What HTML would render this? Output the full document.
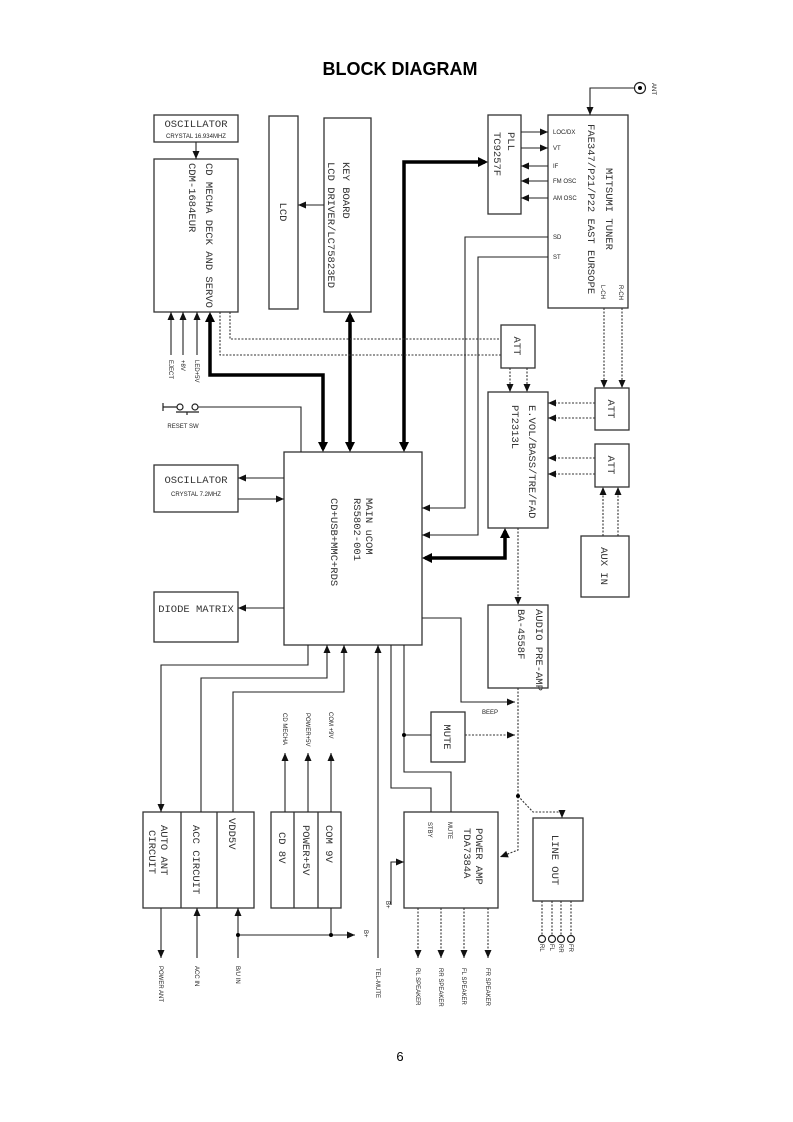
<!DOCTYPE html>
<html><head><meta charset="utf-8"><style>
html,body{margin:0;padding:0;background:#fff;}
svg{display:block;}
text{font-family:"Liberation Mono",monospace;fill:#333;}
.t{font-size:10.5px;}
.s{font-size:6px;font-family:"Liberation Sans",sans-serif;fill:#222;}
</style></head><body>
<svg width="793" height="1122" viewBox="0 0 793 1122" xmlns="http://www.w3.org/2000/svg">
<defs>
<marker id="a" markerUnits="userSpaceOnUse" markerWidth="10" markerHeight="10" refX="9" refY="5" orient="auto"><path d="M1,1.5 L9,5 L1,8.5 z" fill="#111"/></marker>
</defs>
<text x="400" y="75" text-anchor="middle" style="font-family:'Liberation Sans',sans-serif;font-size:18px;font-weight:bold;fill:#000">BLOCK DIAGRAM</text>
<text x="400" y="1061" text-anchor="middle" style="font-family:'Liberation Sans',sans-serif;font-size:13px;fill:#000">6</text>

<g fill="none" stroke="#333" stroke-width="1.3">
<rect x="154" y="115" width="84" height="27"/>
<rect x="154" y="159" width="84" height="153"/>
<rect x="269" y="116" width="29" height="193"/>
<rect x="324" y="118" width="47" height="194"/>
<rect x="154" y="465" width="84" height="47"/>
<rect x="154" y="592" width="84" height="50"/>
<rect x="284" y="452" width="138" height="193"/>
<rect x="548" y="115" width="80" height="193"/>
<rect x="488" y="115" width="33" height="99"/>
<rect x="501" y="325" width="34" height="43"/>
<rect x="595" y="388" width="34" height="42"/>
<rect x="595" y="444" width="34" height="43"/>
<rect x="581" y="536" width="48" height="61"/>
<rect x="488" y="392" width="60" height="136"/>
<rect x="488" y="605" width="60" height="83"/>
<rect x="431" y="712" width="34" height="50"/>
<rect x="404" y="812" width="94" height="96"/>
<rect x="533" y="818" width="50" height="83"/>
<rect x="143" y="812" width="111" height="96"/>
<line x1="181" y1="812" x2="181" y2="908"/><line x1="217" y1="812" x2="217" y2="908"/>
<rect x="271" y="812" width="70" height="96"/>
<line x1="294" y1="812" x2="294" y2="908"/><line x1="318" y1="812" x2="318" y2="908"/>
</g>

<g fill="none" stroke="#222" stroke-width="1.1">
<line x1="196" y1="142" x2="196" y2="159" marker-end="url(#a)"/>
<line x1="324" y1="205" x2="298" y2="205" marker-end="url(#a)"/>
<line x1="171" y1="355" x2="171" y2="312" marker-end="url(#a)"/>
<line x1="183" y1="355" x2="183" y2="312" marker-end="url(#a)"/>
<line x1="197" y1="355" x2="197" y2="312" marker-end="url(#a)"/>
<path d="M198,407 L301,407 L301,452"/>
<line x1="284" y1="478" x2="238" y2="478" marker-end="url(#a)"/>
<line x1="238" y1="499" x2="284" y2="499" marker-end="url(#a)"/>
<line x1="284" y1="608" x2="238" y2="608" marker-end="url(#a)"/>
<line x1="521" y1="132" x2="548" y2="132" marker-end="url(#a)"/>
<line x1="521" y1="148" x2="548" y2="148" marker-end="url(#a)"/>
<line x1="548" y1="166" x2="521" y2="166" marker-end="url(#a)"/>
<line x1="548" y1="181" x2="521" y2="181" marker-end="url(#a)"/>
<line x1="548" y1="198" x2="521" y2="198" marker-end="url(#a)"/>
<path d="M548,237 L465,237 L465,508 L422,508" marker-end="url(#a)"/>
<path d="M548,257 L478,257 L478,535 L422,535" marker-end="url(#a)"/>
<path d="M635,88 L590,88 L590,115" marker-end="url(#a)"/>
<path d="M422,618 L461,618 L461,702 L515,702" marker-end="url(#a)"/>
<path d="M404,735 L431,735"/>
<path d="M391,645 L391,788 L431,788 L431,812"/>
<path d="M404,645 L404,772 L451,772 L451,812"/>
<path d="M391,905 L391,862 L404,862" marker-end="url(#a)"/>
<path d="M308,645 L308,665 L161,665 L161,812" marker-end="url(#a)"/>
<path d="M201,812 L201,678 L327,678 L327,645" marker-end="url(#a)"/>
<path d="M233,812 L233,692 L344,692 L344,645" marker-end="url(#a)"/>
<line x1="285" y1="812" x2="285" y2="753" marker-end="url(#a)"/>
<line x1="308" y1="812" x2="308" y2="753" marker-end="url(#a)"/>
<line x1="331" y1="812" x2="331" y2="753" marker-end="url(#a)"/>
<line x1="161" y1="908" x2="161" y2="958" marker-end="url(#a)"/>
<line x1="197" y1="958" x2="197" y2="908" marker-end="url(#a)"/>
<line x1="238" y1="958" x2="238" y2="908" marker-end="url(#a)"/>
<line x1="238" y1="935" x2="355" y2="935" marker-end="url(#a)"/>
<line x1="331" y1="908" x2="331" y2="935"/>
<line x1="378" y1="958" x2="378" y2="645" marker-end="url(#a)"/>
</g>

<g fill="none" stroke="#000" stroke-width="3.5">
<path d="M210,315 L210,375 L323,375 L323,449"/>
<line x1="350" y1="315" x2="350" y2="449"/>
<path d="M404,449 L404,162 L485,162"/>
<path d="M505,531 L505,558 L425,558"/>
</g>
<g fill="#000">
<path d="M205,322 L210,312 L215,322z"/><path d="M318,442 L323,452 L328,442z"/>
<path d="M345,322 L350,312 L355,322z"/><path d="M345,442 L350,452 L355,442z"/>
<path d="M399,442 L404,452 L409,442z"/><path d="M478,157 L488,162 L478,167z"/>
<path d="M500,538 L505,528 L510,538z"/><path d="M432,553 L422,558 L432,563z"/>
</g>

<g fill="none" stroke="#333" stroke-width="1.1" stroke-dasharray="2,1.5">
<path d="M230,312 L230,339 L501,339"/>
<path d="M220,312 L220,355 L501,355"/>
<line x1="510" y1="368" x2="510" y2="392" marker-end="url(#a)"/>
<line x1="527" y1="368" x2="527" y2="392" marker-end="url(#a)"/>
<line x1="604" y1="308" x2="604" y2="388" marker-end="url(#a)"/>
<line x1="622" y1="308" x2="622" y2="388" marker-end="url(#a)"/>
<line x1="595" y1="403" x2="548" y2="403" marker-end="url(#a)"/>
<line x1="595" y1="418" x2="548" y2="418" marker-end="url(#a)"/>
<line x1="595" y1="458" x2="548" y2="458" marker-end="url(#a)"/>
<line x1="595" y1="474" x2="548" y2="474" marker-end="url(#a)"/>
<line x1="603" y1="536" x2="603" y2="487" marker-end="url(#a)"/>
<line x1="618" y1="536" x2="618" y2="487" marker-end="url(#a)"/>
<line x1="518" y1="528" x2="518" y2="605" marker-end="url(#a)"/>
<path d="M518,688 L518,850 L500,857" marker-end="url(#a)"/>
<path d="M518,796 L533,812 L562,812 L562,818" marker-end="url(#a)"/>
<line x1="465" y1="735" x2="515" y2="735" marker-end="url(#a)"/>
<line x1="418" y1="908" x2="418" y2="958" marker-end="url(#a)"/>
<line x1="441" y1="908" x2="441" y2="958" marker-end="url(#a)"/>
<line x1="464" y1="908" x2="464" y2="958" marker-end="url(#a)"/>
<line x1="488" y1="908" x2="488" y2="958" marker-end="url(#a)"/>
<line x1="542" y1="901" x2="542" y2="935"/>
<line x1="552" y1="901" x2="552" y2="935"/>
<line x1="561" y1="901" x2="561" y2="935"/>
<line x1="571" y1="901" x2="571" y2="935"/>
</g>

<g fill="#000"><circle cx="404" cy="735" r="2"/><circle cx="518" cy="796" r="2"/><circle cx="238" cy="935" r="2"/><circle cx="331" cy="935" r="2"/></g>
<g fill="#fff" stroke="#222" stroke-width="1.2">
<circle cx="640" cy="88" r="5.5"/><circle cx="542" cy="939" r="3.5"/><circle cx="552" cy="939" r="3.5"/><circle cx="561" cy="939" r="3.5"/><circle cx="571" cy="939" r="3.5"/>
<circle cx="180" cy="407" r="3"/><circle cx="195" cy="407" r="3"/>
</g>
<circle cx="640" cy="88" r="2" fill="#000"/>
<g stroke="#222" stroke-width="1.2" fill="none"><path d="M163,403 L163,411 M163,407 L177,407 M176,412 L199,412 M187,412 L187,415"/></g>

<text x="196" y="127" text-anchor="middle" class="t">OSCILLATOR</text>
<text x="196" y="138" text-anchor="middle" class="s">CRYSTAL 16.934MHZ</text>
<text x="196" y="483" text-anchor="middle" class="t">OSCILLATOR</text>
<text x="196" y="496" text-anchor="middle" class="s">CRYSTAL 7.2MHZ</text>
<text x="196" y="612" text-anchor="middle" class="t">DIODE MATRIX</text>
<text x="183" y="428" text-anchor="middle" class="s">RESET SW</text>
<text x="553" y="134" class="s">LOC/DX</text>
<text x="553" y="150" class="s">VT</text>
<text x="553" y="168" class="s">IF</text>
<text x="553" y="183" class="s">FM OSC</text>
<text x="553" y="200" class="s">AM OSC</text>
<text x="553" y="239" class="s">SD</text>
<text x="553" y="259" class="s">ST</text>
<text x="490" y="714" text-anchor="middle" class="s">BEEP</text>

<g class="t">
<text transform="translate(206,163) rotate(90)">CD MECHA DECK AND SERVO</text>
<text transform="translate(189,163) rotate(90)">CDM-1684EUR</text>
<text transform="translate(280,212) rotate(90)" text-anchor="middle">LCD</text>
<text transform="translate(343,162) rotate(90)">KEY BOARD</text>
<text transform="translate(328,162) rotate(90)">LCD DRIVER/LC75823ED</text>
<text transform="translate(366,498) rotate(90)">MAIN uCOM</text>
<text transform="translate(354,498) rotate(90)">RS5802-001</text>
<text transform="translate(331,498) rotate(90)">CD+USB+MMC+RDS</text>
<text transform="translate(508,132) rotate(90)">PLL</text>
<text transform="translate(494,132) rotate(90)">TC9257F</text>
<text transform="translate(588,124) rotate(90)">FAE347/P21/P22 EAST EURSOPE</text>
<text transform="translate(606,168) rotate(90)">MITSUMI TUNER</text>
<text transform="translate(514,346) rotate(90)" text-anchor="middle">ATT</text>
<text transform="translate(608,409) rotate(90)" text-anchor="middle">ATT</text>
<text transform="translate(608,465) rotate(90)" text-anchor="middle">ATT</text>
<text transform="translate(601,566) rotate(90)" text-anchor="middle">AUX IN</text>
<text transform="translate(529,405) rotate(90)">E.VOL/BASS/TRE/FAD</text>
<text transform="translate(512,405) rotate(90)">PT2313L</text>
<text transform="translate(536,609) rotate(90)">AUDIO PRE-AMP</text>
<text transform="translate(518,609) rotate(90)">BA-4558F</text>
<text transform="translate(444,737) rotate(90)" text-anchor="middle">MUTE</text>
<text transform="translate(476,828) rotate(90)">POWER AMP</text>
<text transform="translate(464,828) rotate(90)">TDA7384A</text>
<text transform="translate(552,860) rotate(90)" text-anchor="middle">LINE OUT</text>
<text transform="translate(161,825) rotate(90)">AUTO ANT</text>
<text transform="translate(149,830) rotate(90)">CIRCUIT</text>
<text transform="translate(193,825) rotate(90)">ACC CIRCUIT</text>
<text transform="translate(229,818) rotate(90)">VDD5V</text>
<text transform="translate(279,832) rotate(90)">CD 8V</text>
<text transform="translate(303,825) rotate(90)">POWER+5V</text>
<text transform="translate(326,825) rotate(90)">COM 9V</text>
</g>
<g class="s">
<text transform="translate(169,360) rotate(90)" class="s">EJECT</text>
<text transform="translate(181,360) rotate(90)" class="s">+8V</text>
<text transform="translate(195,360) rotate(90)" class="s">LED+5V</text>
<text transform="translate(652,83) rotate(90)" class="s">ANT</text>
<text transform="translate(601,285) rotate(90)" class="s">L-CH</text>
<text transform="translate(619,285) rotate(90)" class="s">R-CH</text>
<text transform="translate(428,822) rotate(90)" class="s">STBY</text>
<text transform="translate(448,822) rotate(90)" class="s">MUTE</text>
<text transform="translate(283,713) rotate(90)" class="s">CD MECHA</text>
<text transform="translate(306,713) rotate(90)" class="s">POWER+5V</text>
<text transform="translate(329,712) rotate(90)" class="s">COM +9V</text>
<text transform="translate(386,901) rotate(90)" class="s">B+</text>
<text transform="translate(364,930) rotate(90)" class="s">B+</text>
<text transform="translate(159,966) rotate(90)" class="s">POWER ANT</text>
<text transform="translate(195,966) rotate(90)" class="s">ACC IN</text>
<text transform="translate(236,966) rotate(90)" class="s">B/U IN</text>
<text transform="translate(376,968) rotate(90)" class="s">TEL-MUTE</text>
<text transform="translate(416,968) rotate(90)" class="s">RL SPEAKER</text>
<text transform="translate(439,968) rotate(90)" class="s">RR SPEAKER</text>
<text transform="translate(462,968) rotate(90)" class="s">FL SPEAKER</text>
<text transform="translate(486,968) rotate(90)" class="s">FR SPEAKER</text>
<text transform="translate(540,944) rotate(90)" class="s">RL</text>
<text transform="translate(550,944) rotate(90)" class="s">FL</text>
<text transform="translate(559,944) rotate(90)" class="s">RR</text>
<text transform="translate(569,944) rotate(90)" class="s">FR</text>
</g>
</svg>
</body></html>
